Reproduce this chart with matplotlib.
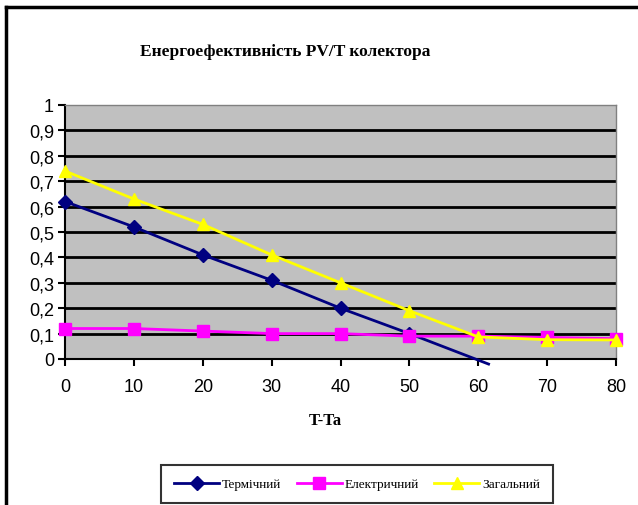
import matplotlib
matplotlib.use("Agg")
import matplotlib.pyplot as plt
from matplotlib.lines import Line2D
from matplotlib.ticker import FuncFormatter

# data
t_diff = [0, 10, 20, 30, 40, 50, 60, 70, 80]
thermal_x = [0, 10, 20, 30, 40, 50, 61.5]
thermal = [0.62, 0.52, 0.41, 0.31, 0.20, 0.10, -0.02]
electric = [0.12, 0.12, 0.11, 0.10, 0.10, 0.09, 0.09, 0.085, 0.08]
total = [0.74, 0.63, 0.53, 0.41, 0.30, 0.19, 0.087, 0.076, 0.075]
y_ticks = [0, 0.1, 0.2, 0.3, 0.4, 0.5, 0.6, 0.7, 0.8, 0.9, 1]

fig = plt.figure(figsize=(6.38, 5.06), dpi=100)
ax = fig.add_axes([65 / 638, 1 - 360 / 506, 551 / 638, 254 / 506])
ax.set_facecolor("#c0c0c0")

# horizontal black gridlines
for v in y_ticks[1:-1]:
    ax.axhline(v, color="black", lw=2, zorder=1)

ax.plot(thermal_x, thermal, color="#000080", lw=2, marker="D", ms=7,
        markevery=list(range(6)), label="Термічний", zorder=3, clip_on=False)
ax.plot(t_diff, electric, color="#ff00ff", lw=2, marker="s", ms=8,
        label="Електричний", zorder=3, clip_on=False)
ax.plot(t_diff, total, color="#ffff00", lw=2, marker="^", ms=9,
        label="Загальний", zorder=4, clip_on=False)

ax.set_xlim(0, 80)
ax.set_ylim(0, 1)
ax.set_xticks(t_diff)
ax.set_yticks(y_ticks)
ax.yaxis.set_major_formatter(FuncFormatter(
    lambda v, p: "{:g}".format(round(v, 1)).replace(".", ",")))
for lab in ax.get_xticklabels() + ax.get_yticklabels():
    lab.set_family("Liberation Sans")
    lab.set_fontsize(13)
ax.tick_params(axis="x", direction="out", length=5, width=1.5, pad=9)
ax.tick_params(axis="y", direction="out", length=5, width=1.5, pad=3)
for side in ["top", "right"]:
    ax.spines[side].set_color("#808080")
    ax.spines[side].set_linewidth(1)
for side in ["left", "bottom"]:
    ax.spines[side].set_color("black")
    ax.spines[side].set_linewidth(1.5)

fig.text(285 / 638, 1 - 52 / 506, "Енергоефективність PV/T колектора",
         ha="center", va="center", family="Liberation Serif",
         fontweight="bold", fontsize=12.5)
fig.text(325 / 638, 1 - 421 / 506, "T-Ta", ha="center", va="center",
         family="Liberation Serif", fontweight="bold", fontsize=12)

leg = fig.legend(loc="center", bbox_to_anchor=(357 / 638, 1 - 485 / 506),
                 ncol=3, frameon=True, fancybox=False, handlelength=3.4,
                 handletextpad=0.2, columnspacing=1.2, borderpad=1.0,
                 borderaxespad=0.0,
                 prop={"family": "Liberation Serif", "size": 9.5})
leg.get_frame().set_edgecolor("black")
leg.get_frame().set_linewidth(1.5)

# outer chart frame
fig.add_artist(Line2D([6 / 638, 6 / 638], [0, 1 - 8 / 506],
                      transform=fig.transFigure, color="black", lw=2.5))
fig.add_artist(Line2D([6 / 638, 1], [1 - 8 / 506, 1 - 8 / 506],
                      transform=fig.transFigure, color="black", lw=2.5))

fig.savefig("out.png", dpi=100)
